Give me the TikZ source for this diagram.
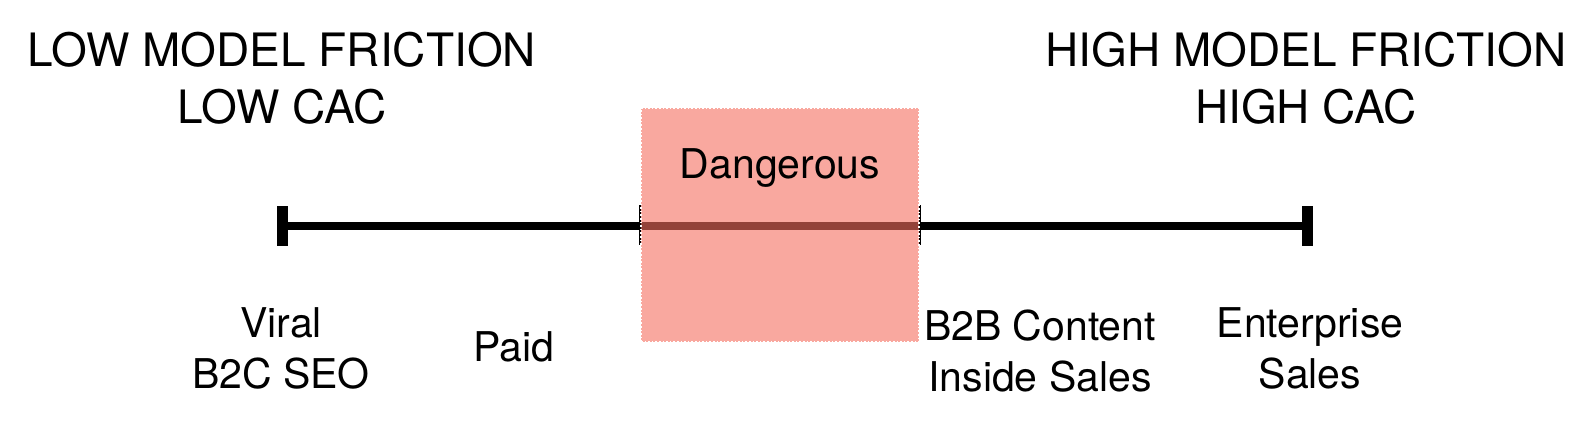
\documentclass[tikz,border=0pt]{standalone}
\usepackage{fontspec}
\setmainfont{TeX Gyre Heros}
\definecolor{dangerred}{RGB}{245,110,95}

\tikzset{
  headlabel/.style={font=\fontsize{23}{28.5}\selectfont, align=center, anchor=base},
  channel/.style={font=\fontsize{20.5}{25.5}\selectfont, align=center, anchor=base},
  endbar/.style={line width=5.5pt},
  dangerbox/.style={fill=dangerred, fill opacity=0.6, draw=white, densely dotted,
    line width=0.8pt, minimum width=139pt, minimum height=117pt, inner sep=0pt},
}

\begin{document}
\begin{tikzpicture}[x=0.5pt,y=-0.5pt]
  \useasboundingbox (0,0) rectangle (1594,424);

  % the scale
  \coordinate (lowEnd) at (282,226);
  \coordinate (highEnd) at (1307,226);
  \draw[line width=4pt] (lowEnd) -- (highEnd);
  \draw[endbar] (lowEnd) ++(0,-20) -- ++(0,40);
  \draw[endbar] (highEnd) ++(0,-20) -- ++(0,40);
  \draw[line width=0.7pt] (640,205) -- (640,245);
  \draw[line width=0.7pt] (920,205) -- (920,245);

  % danger zone
  \node[dangerbox] (danger) at (780,225) {};
  \node[channel] (dangerLabel) at (780,178) {Dangerous};

  % ends (base = last line)
  \node[headlabel] (lowHead) at (282,123) {LOW MODEL FRICTION\\LOW CAC};
  \node[headlabel] (highHead) at (1306,123) {HIGH MODEL FRICTION\\HIGH CAC};

  % channels
  \node[channel] (viral) at (281,388) {Viral\\B2C SEO};
  \node[channel] (paid) at (514,361) {Paid};
  \node[channel] (content) at (1040,391) {B2B Content\\Inside Sales};
  \node[channel] (enterprise) at (1310,388) {Enterprise\\Sales};
\end{tikzpicture}
\end{document}
